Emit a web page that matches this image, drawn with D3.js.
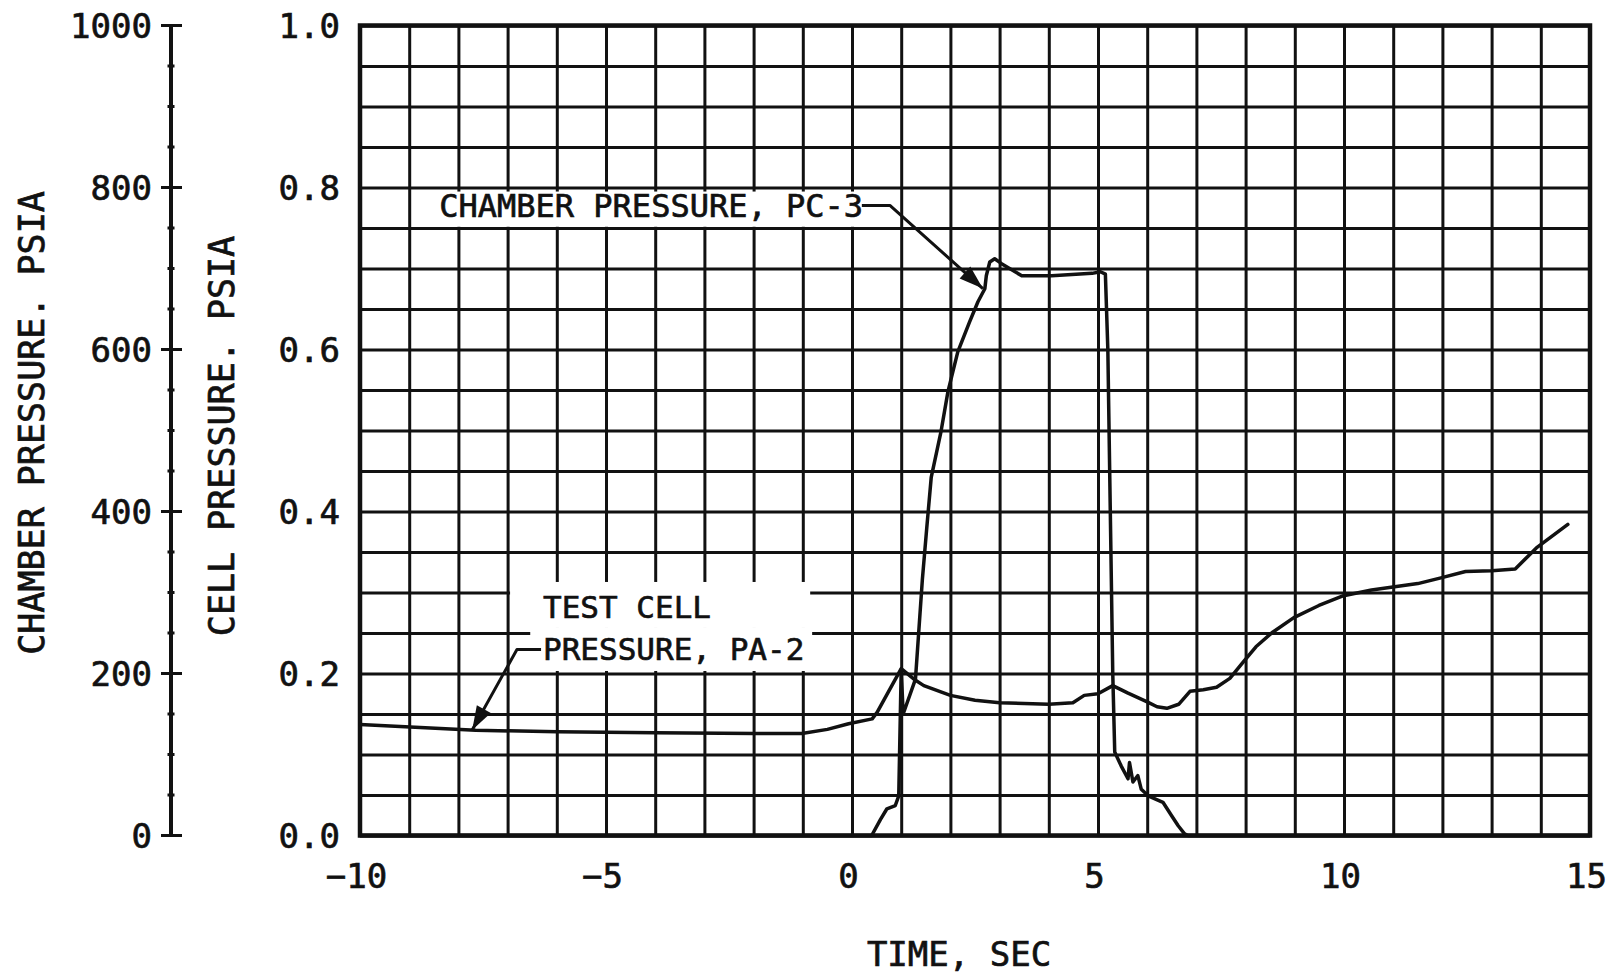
<!DOCTYPE html>
<html>
<head>
<meta charset="utf-8">
<script src="https://cdn.jsdelivr.net/npm/d3@7/dist/d3.min.js"></script>
<style>
  html, body { margin: 0; padding: 0; background: #fff; }
  svg { display: block; }
  text { font-family: "DejaVu Sans Mono", "Liberation Mono", monospace; fill: #111; stroke: #111; stroke-width: 0.7px; }
</style>
</head>
<body>
<svg id="chart" width="1608" height="975"></svg>
<script>
// ---------------- data ----------------
// Test cell pressure PA-2 (psia, right / inner axis)
const cellTime  = [-10, -8.98, -7.65, -5.99, -4.01, -1.97, -1.02, -0.5, -0.07, 0.41, 0.51, 1.0, 1.26, 1.46, 2.0, 2.5, 3.0, 4.0, 4.49, 4.72, 5.0, 5.3, 5.6, 6.0, 6.2, 6.4, 6.64, 6.87, 7.14, 7.41, 7.68, 7.95, 8.21, 8.55, 8.98, 9.49, 9.99, 10.56, 11.5, 11.97, 12.47, 13.0, 13.48, 13.91, 14.55];
const cellValue = [0.137, 0.134, 0.130, 0.128, 0.127, 0.126, 0.126, 0.131, 0.138, 0.144, 0.152, 0.206, 0.193, 0.185, 0.173, 0.167, 0.164, 0.162, 0.164, 0.173, 0.175, 0.185, 0.176, 0.165, 0.159, 0.157, 0.162, 0.178, 0.180, 0.183, 0.194, 0.214, 0.233, 0.251, 0.269, 0.284, 0.296, 0.303, 0.311, 0.318, 0.326, 0.327, 0.329, 0.355, 0.384];

// Chamber pressure PC-3 (psia, left / outer axis)
const chamberTime  = [-10, 0.4, 0.58, 0.71, 0.88, 0.95, 1.0, 1.04, 1.29, 1.43, 1.52, 1.61, 1.81, 1.95, 2.15, 2.39, 2.56, 2.7, 2.73, 2.8, 2.9, 3.04, 3.45, 4.06, 4.88, 5.05, 5.15, 5.2, 5.25, 5.3, 5.34, 5.47, 5.61, 5.64, 5.71, 5.81, 5.88, 6.02, 6.32, 6.49, 6.63, 6.76, 6.83, 15];
const chamberValue = [0, 0, 20, 33, 37, 49, 205, 150, 193, 316, 380, 442, 499, 548, 597, 634, 659, 675, 691, 708, 712, 706, 691, 691, 694, 696, 693, 600, 400, 200, 103, 86, 70, 90, 66, 74, 57, 49, 41, 25, 12, 2, 0, 0];

// Axis ticks and labels
const xGridTicks      = d3.range(-10, 16, 1);
const xLabelTicks     = [-10, -5, 0, 5, 10, 15];
const xTickLabels     = ["\u221210", "\u22125", "0", "5", "10", "15"];
const cellGridTicks   = d3.range(0, 21, 1).map(i => i * 0.05);
const cellLabelTicks  = [0, 0.2, 0.4, 0.6, 0.8, 1.0];
const cellTickLabels  = ["0.0", "0.2", "0.4", "0.6", "0.8", "1.0"];
const chamberMajor    = [0, 200, 400, 600, 800, 1000];
const chamberMinor    = d3.range(0, 1001, 50);
const chamberTickLabels = ["0", "200", "400", "600", "800", "1000"];

// Text
const xTitle = "TIME, SEC";
const chamberTitle = "CHAMBER PRESSURE. PSIA";
const cellTitle = "CELL PRESSURE. PSIA";
const chamberNote = "CHAMBER PRESSURE, PC-3";
const cellNoteLines = ["TEST CELL", "PRESSURE, PA-2"];

// Annotation anchors in data units (time, cell-pressure units)
const chamberNoteAt  = [-8.39, 0.7636];
const chamberLeader  = [[0.20, 0.7778], [0.77, 0.7778], [2.66, 0.6753]];
const chamberBox     = [-8.58, 0.28, 0.7515, 0.7950];
const cellNoteAt     = [[-6.28, 0.2685], [-6.28, 0.2167]];
const cellLeader     = [[-6.32, 0.2296], [-6.81, 0.2296], [-7.72, 0.1302]];
const cellBoxes      = [[-6.95, -0.85, 0.2562, 0.313], [-6.54, -0.81, 0.2031, 0.2562]];

// ---------------- layout ----------------
const X0 = 360, X1 = 1590, Y0 = 25.5, Y1 = 835.5;
const svg = d3.select("#chart");
svg.append("rect").attr("width", 1608).attr("height", 975).attr("fill", "#fff");

const x = d3.scaleLinear().domain([-10, 15]).range([X0, X1]);
const yCell = d3.scaleLinear().domain([0, 1]).range([Y1, Y0]);
const yCh = d3.scaleLinear().domain([0, 1000]).range([Y1, Y0]);

const ink = "#111";

// grid via axes
const gx = svg.append("g").attr("transform", `translate(0,${Y1})`)
  .call(d3.axisBottom(x).tickValues(xGridTicks).tickSize(-(Y1 - Y0)).tickFormat(""));
gx.select(".domain").remove();
gx.selectAll("line").attr("stroke", ink).attr("stroke-width", 3);

const gy = svg.append("g").attr("transform", `translate(${X0},0)`)
  .call(d3.axisLeft(yCell).tickValues(cellGridTicks).tickSize(-(X1 - X0)).tickFormat(""));
gy.select(".domain").remove();
gy.selectAll("line").attr("stroke", ink).attr("stroke-width", 3);

// white boxes behind annotation text
const boxes = [chamberBox].concat(cellBoxes);
svg.append("g").selectAll("rect").data(boxes).join("rect")
  .attr("x", d => x(d[0])).attr("width", d => x(d[1]) - x(d[0]))
  .attr("y", d => yCell(d[3])).attr("height", d => yCell(d[2]) - yCell(d[3]))
  .attr("fill", "#fff");

// plot border
svg.append("rect").attr("x", X0).attr("y", Y0).attr("width", X1 - X0).attr("height", Y1 - Y0)
  .attr("fill", "none").attr("stroke", ink).attr("stroke-width", 4.5);

// curves
const cellData = cellTime.map((t, i) => [t, cellValue[i]]);
const chamberData = chamberTime.map((t, i) => [t, chamberValue[i]]);

svg.append("path").datum(cellData)
  .attr("d", d3.line().x(d => x(d[0])).y(d => yCell(d[1])))
  .attr("fill", "none").attr("stroke", ink).attr("stroke-width", 3.5)
  .attr("stroke-linejoin", "round").attr("stroke-linecap", "round");

svg.append("path").datum(chamberData)
  .attr("d", d3.line().x(d => x(d[0])).y(d => yCh(d[1])))
  .attr("fill", "none").attr("stroke", ink).attr("stroke-width", 3.5)
  .attr("stroke-linejoin", "round").attr("stroke-linecap", "round");

// x tick labels
const xl = svg.append("g").attr("transform", `translate(0,${Y1})`)
  .call(d3.axisBottom(x).tickValues(xLabelTicks).tickSize(0).tickPadding(28)
    .tickFormat((d, i) => xTickLabels[i]));
xl.select(".domain").remove();
xl.selectAll("text").attr("font-size", 34).attr("font-family", "DejaVu Sans Mono").attr("fill", ink).attr("dx", -4);

// inner (cell) axis labels
svg.append("g").selectAll("text").data(cellLabelTicks).join("text")
  .attr("x", X0 - 20).attr("y", d => yCell(d)).attr("dy", "0.36em")
  .attr("text-anchor", "end").attr("font-size", 34)
  .text((d, i) => cellTickLabels[i]);

// outer chamber axis
const AX = 171;
const ga = svg.append("g");
ga.append("line").attr("x1", AX).attr("x2", AX).attr("y1", yCh(0)).attr("y2", yCh(1000))
  .attr("stroke", ink).attr("stroke-width", 4);
ga.selectAll("line.maj").data(chamberMajor).join("line").attr("class", "maj")
  .attr("x1", AX - 10).attr("x2", AX + 11).attr("y1", d => yCh(d)).attr("y2", d => yCh(d))
  .attr("stroke", ink).attr("stroke-width", 3);
ga.selectAll("line.min").data(chamberMinor.filter(v => v % 200 !== 0)).join("line").attr("class", "min")
  .attr("x1", AX - 3.5).attr("x2", AX + 3.5).attr("y1", d => yCh(d)).attr("y2", d => yCh(d))
  .attr("stroke", ink).attr("stroke-width", 3);
ga.selectAll("text").data(chamberMajor).join("text")
  .attr("x", 152).attr("y", d => yCh(d)).attr("dy", "0.36em")
  .attr("text-anchor", "end").attr("font-size", 34)
  .text((d, i) => chamberTickLabels[i]);

// axis titles
svg.append("text").attr("transform", "translate(31,423) rotate(-90)")
  .attr("dy", "0.36em").attr("text-anchor", "middle").attr("font-size", 35).text(chamberTitle);
svg.append("text").attr("transform", "translate(221,436) rotate(-90)")
  .attr("dy", "0.36em").attr("text-anchor", "middle").attr("font-size", 35).text(cellTitle);
svg.append("text").attr("x", 959).attr("y", 954).attr("dy", "0.36em")
  .attr("text-anchor", "middle").attr("font-size", 34).text(xTitle);

// annotations
function arrow(pts) {
  const g = svg.append("g");
  const p = pts.map(d => [x(d[0]), yCell(d[1])]);
  g.append("path").attr("d", d3.line()(p)).attr("fill", "none").attr("stroke", ink)
    .attr("stroke-width", 3).attr("stroke-linejoin", "round");
  const a = p[p.length - 2], b = p[p.length - 1];
  const ang = Math.atan2(b[1] - a[1], b[0] - a[0]);
  const L = 24, Wd = 8;
  const bx = b[0] - L * Math.cos(ang), by = b[1] - L * Math.sin(ang);
  const nx = -Math.sin(ang) * Wd, ny = Math.cos(ang) * Wd;
  g.append("path").attr("d", `M${b[0]},${b[1]}L${bx + nx},${by + ny}L${bx - nx},${by - ny}Z`)
    .attr("fill", ink);
}
arrow(chamberLeader);
arrow(cellLeader);

svg.append("text").attr("x", x(chamberNoteAt[0])).attr("y", yCell(chamberNoteAt[1]))
  .attr("font-size", 32).text(chamberNote);
svg.append("g").selectAll("text").data(cellNoteAt).join("text")
  .attr("x", d => x(d[0])).attr("y", d => yCell(d[1]))
  .attr("font-size", 31).text((d, i) => cellNoteLines[i]);
</script>
</body>
</html>
